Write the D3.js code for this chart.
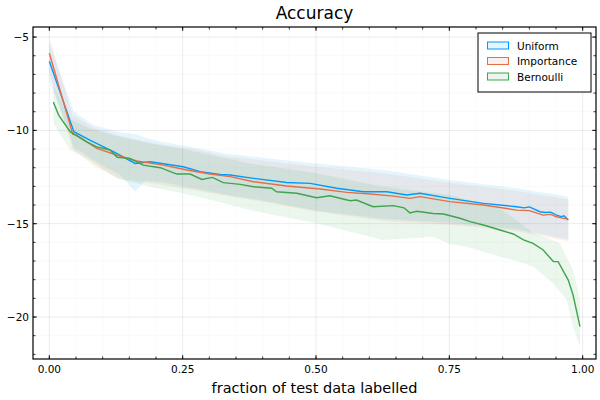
<!DOCTYPE html>
<html><head><meta charset="utf-8">
<script src="https://cdn.jsdelivr.net/npm/d3@7"></script>
<style>body{margin:0;background:#fff}svg{display:block;font-family:"DejaVu Sans",sans-serif}</style>
</head><body><svg id="c" width="600" height="400"></svg>
<script>
const seriesNames = ["Uniform", "Importance", "Bernoulli"];
const seriesColors = ["#009AFA", "#E36F47", "#3EA44E"];
const xTicks = [0, 0.25, 0.5, 0.75, 1.0];
const xTickLabels = ["0.00", "0.25", "0.50", "0.75", "1.00"];
const yTicks = [-5, -10, -15, -20];
const yTickLabels = ["\u22125", "\u221210", "\u221215", "\u221220"];

// mean lines [x, y]
const uniformLine = [[0.0,-6.29],[0.046,-10.07],[0.076,-10.52],[0.12,-11.14],[0.161,-11.77],[0.189,-11.68],[0.251,-11.95],[0.283,-12.21],[0.32,-12.36],[0.339,-12.39],[0.383,-12.57],[0.445,-12.79],[0.489,-12.84],[0.539,-13.1],[0.589,-13.29],[0.633,-13.29],[0.67,-13.46],[0.695,-13.37],[0.751,-13.64],[0.814,-13.91],[0.876,-14.09],[0.89,-14.15],[0.9,-14.1],[0.92,-14.36],[0.93,-14.4],[0.94,-14.38],[0.951,-14.54],[0.96,-14.62],[0.965,-14.58],[0.973,-14.8]];
const importanceLine = [[0.0,-5.87],[0.044,-10.2],[0.051,-10.25],[0.089,-10.96],[0.126,-11.32],[0.164,-11.64],[0.214,-11.86],[0.258,-12.12],[0.301,-12.34],[0.339,-12.48],[0.383,-12.75],[0.445,-12.98],[0.508,-13.14],[0.558,-13.32],[0.602,-13.41],[0.645,-13.52],[0.676,-13.64],[0.695,-13.55],[0.751,-13.82],[0.814,-14.0],[0.876,-14.27],[0.9,-14.3],[0.926,-14.54],[0.94,-14.5],[0.951,-14.63],[0.973,-14.77]];
const bernoulliLine = [[0.0075,-8.48],[0.0175,-9.18],[0.039,-10.07],[0.07,-10.61],[0.089,-10.88],[0.114,-11.05],[0.127,-11.44],[0.151,-11.5],[0.176,-11.86],[0.208,-12.0],[0.239,-12.34],[0.264,-12.34],[0.286,-12.63],[0.306,-12.52],[0.326,-12.8],[0.358,-12.89],[0.383,-13.02],[0.417,-13.1],[0.426,-13.29],[0.464,-13.37],[0.501,-13.61],[0.526,-13.5],[0.564,-13.77],[0.576,-13.73],[0.607,-14.09],[0.645,-14.03],[0.665,-14.15],[0.676,-14.42],[0.689,-14.33],[0.72,-14.45],[0.739,-14.48],[0.77,-14.71],[0.789,-14.89],[0.814,-15.07],[0.845,-15.34],[0.87,-15.55],[0.889,-15.87],[0.907,-16.05],[0.926,-16.41],[0.945,-17.03],[0.954,-17.03],[0.973,-18.02],[0.982,-18.82],[0.995,-20.52]];

// bands [x, lower, upper]
const uniformBand = [[0.0,-7.3,-5.3],[0.046,-10.9,-9.0],[0.083,-11.6,-9.71],[0.133,-12.4,-10.1],[0.161,-13.29,-10.2],[0.18,-12.7,-10.4],[0.208,-12.75,-10.6],[0.27,-13.1,-10.9],[0.333,-13.46,-11.25],[0.395,-13.73,-11.45],[0.501,-14.3,-11.77],[0.626,-14.75,-12.12],[0.751,-14.95,-12.66],[0.876,-15.3,-13.1],[0.973,-15.85,-13.55]];
const importanceBand = [[0.0,-6.9,-5.05],[0.044,-11.0,-9.2],[0.083,-11.9,-9.85],[0.133,-12.6,-10.3],[0.208,-12.9,-10.75],[0.27,-13.2,-11.0],[0.333,-13.5,-11.4],[0.395,-13.8,-11.6],[0.501,-14.35,-11.95],[0.626,-14.85,-12.3],[0.751,-15.05,-12.8],[0.876,-15.4,-13.25],[0.973,-15.95,-13.7]];
const bernoulliBand = [[0.0075,-9.6,-7.6],[0.039,-11.05,-9.4],[0.076,-11.59,-9.9],[0.126,-12.57,-10.3],[0.189,-13.02,-10.7],[0.25,-13.37,-11.0],[0.3,-13.7,-11.3],[0.376,-14.27,-11.77],[0.501,-14.98,-12.3],[0.626,-15.87,-13.02],[0.676,-15.78,-13.2],[0.72,-15.7,-13.35],[0.751,-16.1,-13.46],[0.783,-16.23,-13.7],[0.845,-16.77,-14.2],[0.876,-17.0,-14.8],[0.907,-17.3,-15.5],[0.945,-18.2,-15.9],[0.957,-18.6,-16.05],[0.97,-19.09,-16.8],[0.982,-20.52,-17.5],[0.995,-21.6,-19.1]];

const lines = [uniformLine, importanceLine, bernoulliLine];
const bands = [uniformBand, importanceBand, bernoulliBand];

const L = 33, R = 596, T = 27, B = 359;
const svg = d3.select("#c");
const x = d3.scaleLinear().domain([-0.0306, 1.025]).range([L, R]);
const y = d3.scaleLinear().domain([-22.25, -4.46]).range([B, T]);

const xMinor = d3.range(0, 1.0001, 0.05);
const yMinor = d3.range(-22, -4.5, 1);

// grid
const g = svg.append("g");
g.selectAll(".xmg").data(xMinor).enter().append("line")
  .attr("x1", d => x(d)).attr("x2", d => x(d)).attr("y1", T).attr("y2", B)
  .attr("stroke", "#000").attr("stroke-opacity", 0.05).attr("stroke-width", 0.5);
g.selectAll(".ymg").data(yMinor).enter().append("line")
  .attr("y1", d => y(d)).attr("y2", d => y(d)).attr("x1", L).attr("x2", R)
  .attr("stroke", "#000").attr("stroke-opacity", 0.05).attr("stroke-width", 0.5);
g.selectAll(".xg").data(xTicks).enter().append("line")
  .attr("x1", d => x(d)).attr("x2", d => x(d)).attr("y1", T).attr("y2", B)
  .attr("stroke", "#000").attr("stroke-opacity", 0.1).attr("stroke-width", 0.6);
g.selectAll(".yg").data(yTicks).enter().append("line")
  .attr("y1", d => y(d)).attr("y2", d => y(d)).attr("x1", L).attr("x2", R)
  .attr("stroke", "#000").attr("stroke-opacity", 0.1).attr("stroke-width", 0.6);

// bands
const area = d3.area().x(d => x(d[0])).y0(d => y(d[1])).y1(d => y(d[2]));
bands.forEach((b, i) => {
  svg.append("path").attr("d", area(b)).attr("fill", seriesColors[i]).attr("fill-opacity", 0.1).attr("stroke", "none");
});
// lines
const line = d3.line().x(d => x(d[0])).y(d => y(d[1]));
lines.forEach((l, i) => {
  svg.append("path").attr("d", line(l)).attr("fill", "none").attr("stroke", seriesColors[i]).attr("stroke-width", 1.4);
});

// frame
svg.append("rect").attr("x", L).attr("y", T).attr("width", R - L).attr("height", B - T)
  .attr("fill", "none").attr("stroke", "#000").attr("stroke-width", 1.2);

// ticks
const tk = svg.append("g").attr("stroke", "#000").attr("stroke-width", 0.8);
xMinor.forEach(d => {
  tk.append("line").attr("x1", x(d)).attr("x2", x(d)).attr("y1", B).attr("y2", B - 2.5);
  tk.append("line").attr("x1", x(d)).attr("x2", x(d)).attr("y1", T).attr("y2", T + 2.5);
});
xTicks.forEach(d => {
  tk.append("line").attr("x1", x(d)).attr("x2", x(d)).attr("y1", B).attr("y2", B - 4);
  tk.append("line").attr("x1", x(d)).attr("x2", x(d)).attr("y1", T).attr("y2", T + 4);
});
yMinor.forEach(d => {
  tk.append("line").attr("y1", y(d)).attr("y2", y(d)).attr("x1", L).attr("x2", L + 2.5);
  tk.append("line").attr("y1", y(d)).attr("y2", y(d)).attr("x1", R).attr("x2", R - 2.5);
});
yTicks.forEach(d => {
  tk.append("line").attr("y1", y(d)).attr("y2", y(d)).attr("x1", L).attr("x2", L + 4);
  tk.append("line").attr("y1", y(d)).attr("y2", y(d)).attr("x1", R).attr("x2", R - 4);
});

// tick labels
svg.selectAll(".xl").data(xTicks).enter().append("text")
  .attr("x", d => x(d)).attr("y", 373).attr("text-anchor", "middle")
  .attr("font-size", 10.5).attr("fill", "#000").text((d, i) => xTickLabels[i]);
svg.selectAll(".yl").data(yTicks).enter().append("text")
  .attr("x", 29).attr("y", d => y(d) + 4).attr("text-anchor", "end")
  .attr("font-size", 10.5).attr("fill", "#000").text((d, i) => yTickLabels[i]);

// labels
svg.append("text").attr("x", (L + R) / 2).attr("y", 393).attr("text-anchor", "middle")
  .attr("font-size", 14.5).attr("fill", "#000").text("fraction of test data labelled");
svg.append("text").attr("x", (L + R) / 2).attr("y", 19).attr("text-anchor", "middle")
  .attr("font-size", 17).attr("fill", "#000").text("Accuracy");

// legend
const lg = svg.append("g");
lg.append("rect").attr("x", 478).attr("y", 33).attr("width", 113).attr("height", 59)
  .attr("fill", "#fff").attr("stroke", "#000").attr("stroke-width", 1);
seriesNames.forEach((n, i) => {
  const yy = 46 + i * 15.5;
  lg.append("rect").attr("x", 487.5).attr("y", yy - 4).attr("width", 21).attr("height", 7)
    .attr("fill", seriesColors[i]).attr("fill-opacity", 0.1)
    .attr("stroke", seriesColors[i]).attr("stroke-width", 1);
  lg.append("text").attr("x", 517).attr("y", yy + 3.8).attr("font-size", 10.5).attr("fill", "#000").text(n);
});
</script></body></html>
